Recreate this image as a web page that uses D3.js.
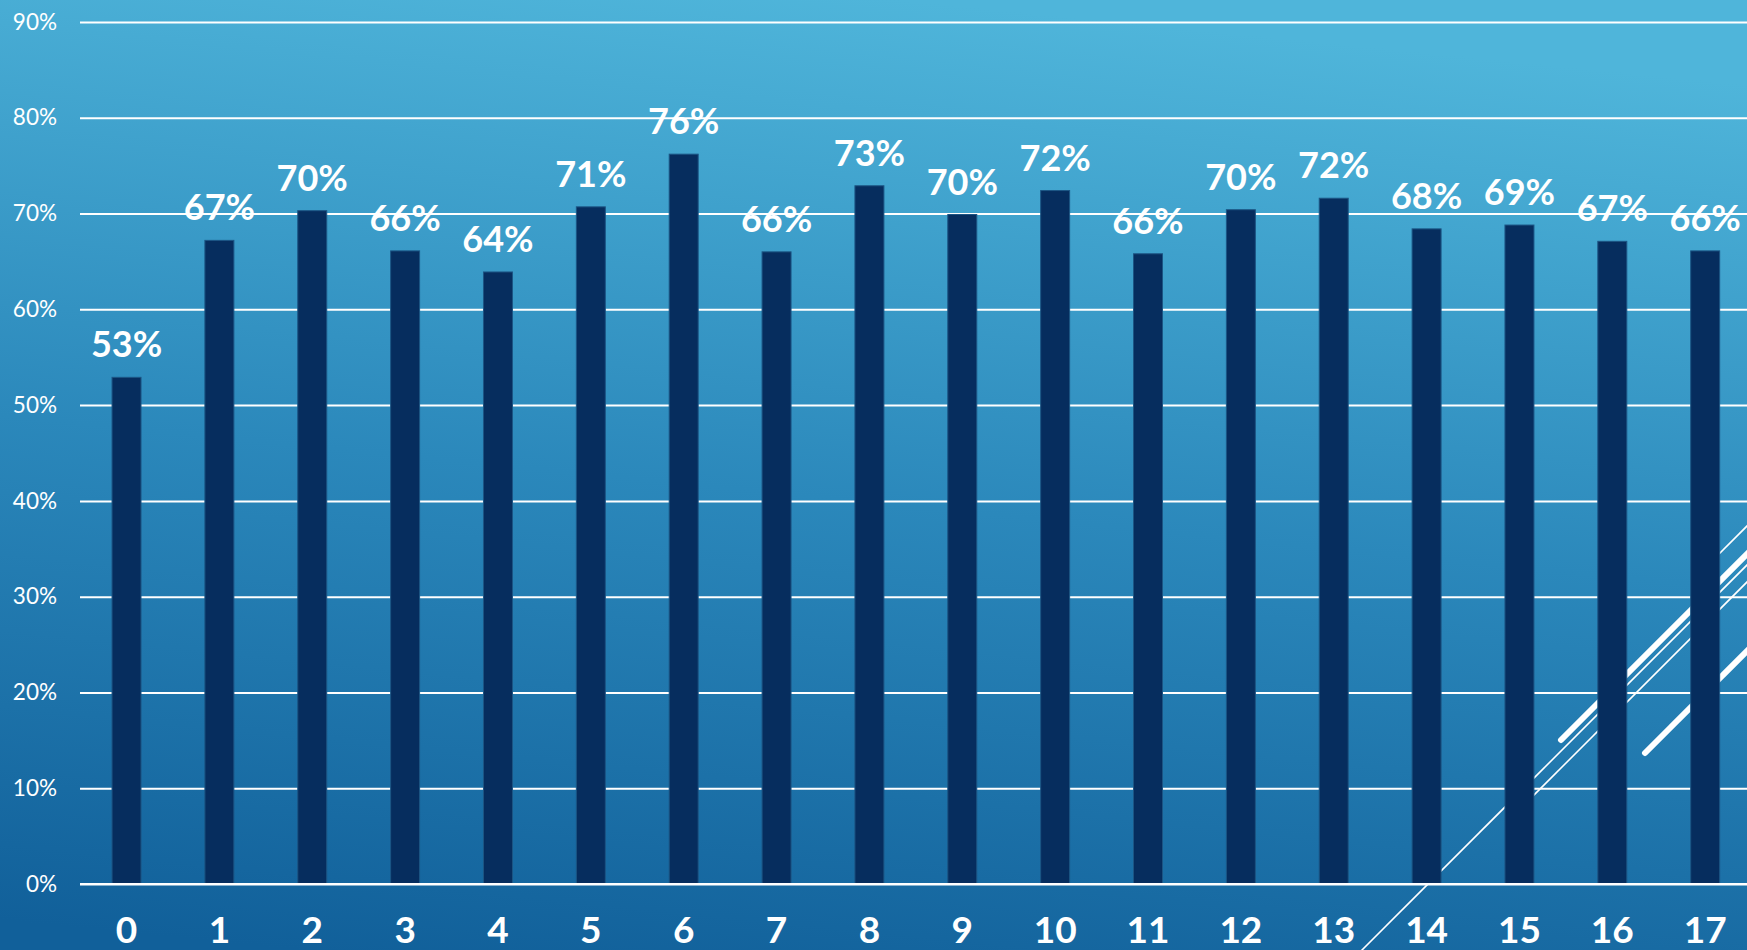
<!DOCTYPE html>
<html>
<head>
<meta charset="utf-8">
<script src="https://cdn.jsdelivr.net/npm/d3@7"></script>
<style>
  html, body { margin: 0; padding: 0; overflow: hidden; background: #12619a; }
  svg { display: block; font-family: Lato, "Open Sans", sans-serif; }
</style>
</head>
<body>
<svg id="chart" width="1747" height="950"></svg>
<script>
// Categories along the x axis
const categories = ["0","1","2","3","4","5","6","7","8","9","10","11","12","13","14","15","16","17"];
// Share per category (fraction of 1)
const shares = [0.529, 0.672, 0.703, 0.661, 0.639, 0.707, 0.762, 0.660, 0.729, 0.699,
                0.724, 0.658, 0.704, 0.716, 0.684, 0.688, 0.671, 0.661];
// Y axis ticks
const yTicks = [0, 0.1, 0.2, 0.3, 0.4, 0.5, 0.6, 0.7, 0.8, 0.9];

const W = 1747, H = 950;
const svg = d3.select("#chart");

// Background gradient, dark at the lower left, light at the upper right
const defs = svg.append("defs");
const grad = defs.append("linearGradient")
  .attr("id", "bg")
  .attr("gradientUnits", "userSpaceOnUse")
  .attr("x1", 800).attr("y1", 1000)
  .attr("x2", 900).attr("y2", 0);
grad.append("stop").attr("offset", 0).attr("stop-color", "#11609a");
grad.append("stop").attr("offset", 0.5).attr("stop-color", "#2b88bb");
grad.append("stop").attr("offset", 1).attr("stop-color", "#4fb5da");
svg.append("rect").attr("width", W).attr("height", H).attr("fill", "url(#bg)");

const x = d3.scaleBand()
  .domain(categories)
  .range([80, 1751.7])
  .paddingInner(0.688)
  .paddingOuter(0.345);

const y = d3.scaleLinear().domain([0, 0.9]).range([884, 22]);

// Decorative diagonal strokes in the lower right corner
const strokes = [
  { x1: 1330, y1: 982, x2: 1760, y2: 552, w: 1.6, cap: "butt" },
  { x1: 1520, y1: 809, x2: 1760, y2: 569, w: 1.6, cap: "butt" },
  { x1: 1705, y1: 568, x2: 1760, y2: 513, w: 1.6, cap: "butt" },
  { x1: 1561, y1: 740, x2: 1760, y2: 541, w: 6, cap: "round" },
  { x1: 1645, y1: 753, x2: 1760, y2: 638, w: 6, cap: "round" }
];
svg.append("g").selectAll("line").data(strokes).join("line")
  .attr("x1", d => d.x1).attr("y1", d => d.y1)
  .attr("x2", d => d.x2).attr("y2", d => d.y2)
  .attr("stroke", "#ffffff")
  .attr("stroke-width", d => d.w)
  .attr("stroke-linecap", d => d.cap);

// Horizontal gridlines and tick labels
const yAxis = d3.axisLeft(y)
  .tickValues(yTicks)
  .tickFormat(d3.format(".0%"))
  .tickSize(-(W - 80))
  .tickPadding(23);
const gy = svg.append("g").attr("transform", "translate(80,0)").call(yAxis);
gy.select(".domain").remove();
gy.selectAll(".tick line").attr("stroke", "#ffffff").attr("stroke-width", 2);
gy.selectAll(".tick text")
  .attr("fill", "#ffffff")
  .attr("font-size", 22.5)
  .attr("font-family", "Lato, sans-serif")
  .attr("font-weight", 400);

// Bars
svg.append("g").selectAll("rect").data(categories).join("rect")
  .attr("x", d => x(d))
  .attr("y", (d, i) => y(shares[i]))
  .attr("width", x.bandwidth())
  .attr("height", (d, i) => y(0) - y(shares[i]))
  .attr("fill", "#062d5e")
  .attr("stroke", "#1c5584")
  .attr("stroke-width", 1);

// Baseline over the bar feet
svg.append("line")
  .attr("x1", 80).attr("x2", W)
  .attr("y1", y(0)).attr("y2", y(0))
  .attr("stroke", "#ffffff").attr("stroke-width", 2);

// Value labels
svg.append("g").selectAll("text").data(categories).join("text")
  .attr("x", d => x(d) + x.bandwidth() / 2)
  .attr("y", (d, i) => y(shares[i]) - 20)
  .attr("text-anchor", "middle")
  .attr("fill", "#ffffff")
  .attr("font-size", 36)
  .attr("font-weight", 700)
  .text((d, i) => d3.format(".0%")(shares[i]));

// Category labels
const xAxis = d3.axisBottom(x).tickSize(0).tickPadding(0);
const gx = svg.append("g").call(xAxis);
gx.select(".domain").remove();
gx.selectAll(".tick text")
  .attr("y", 943)
  .attr("dy", null)
  .attr("fill", "#ffffff")
  .attr("font-size", 37)
  .attr("font-family", "Lato, sans-serif")
  .attr("font-weight", 700);
</script>
</body>
</html>
